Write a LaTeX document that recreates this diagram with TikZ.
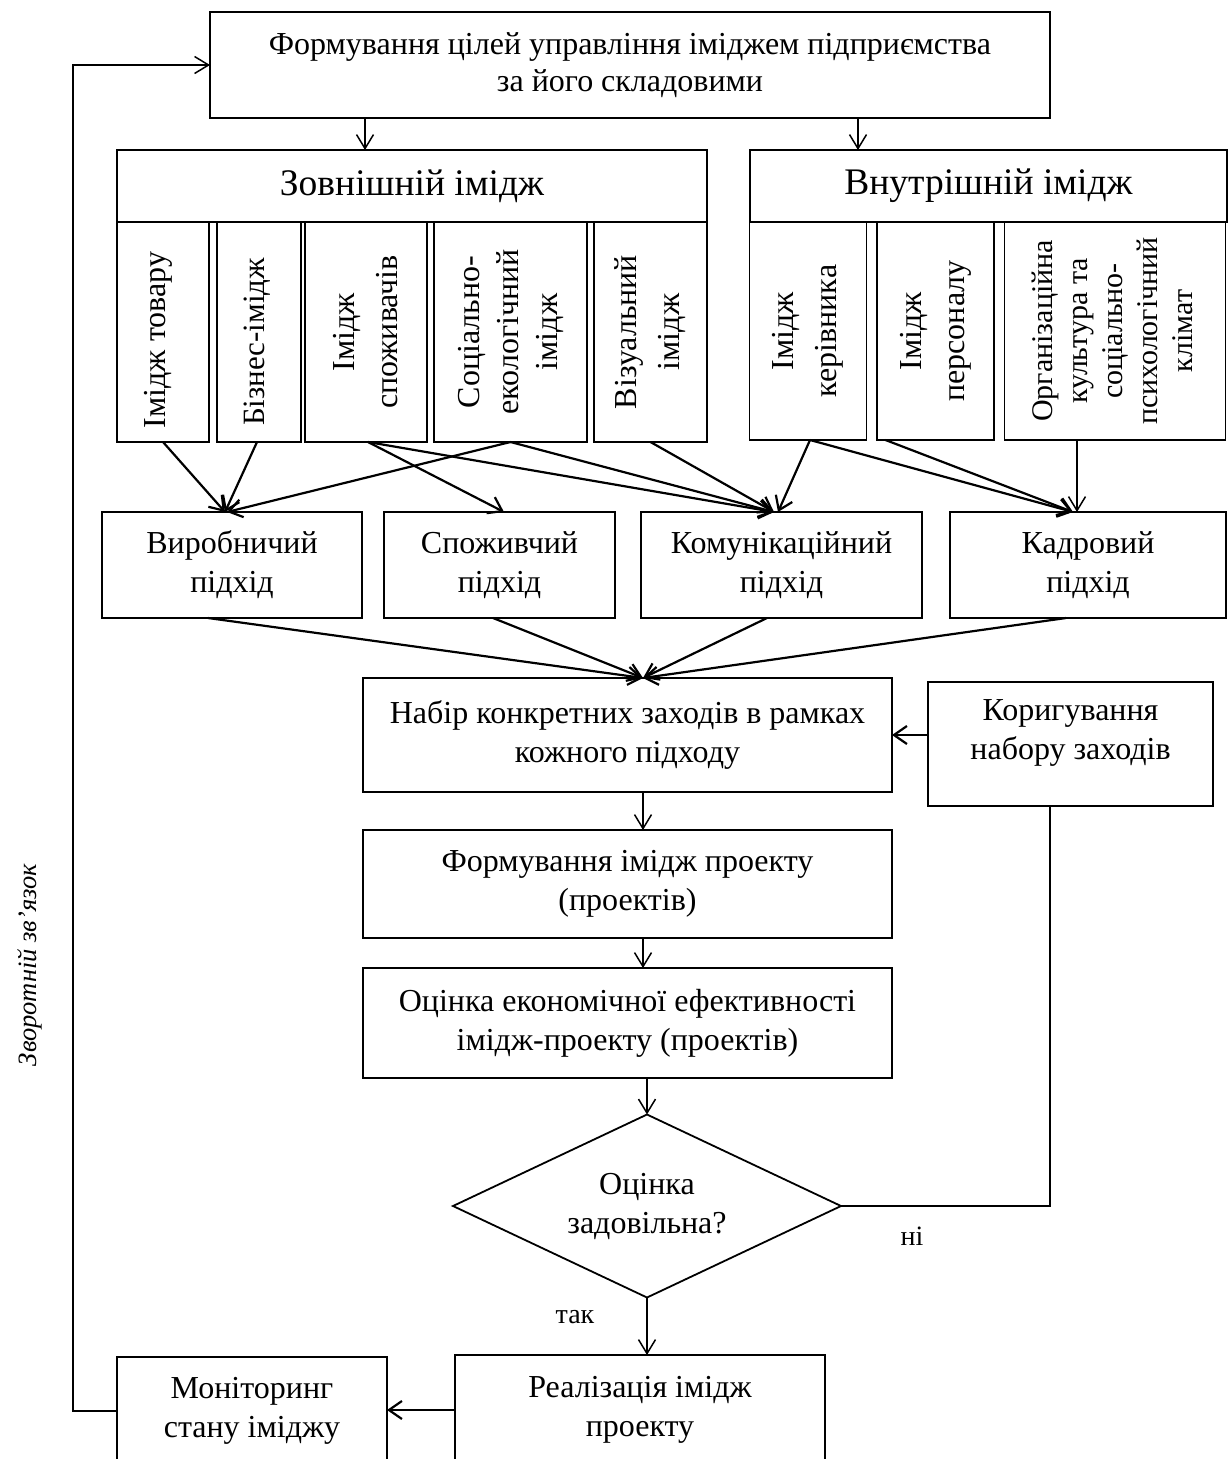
\documentclass[tikz,border=0pt]{standalone}
\usepackage{fontspec}
\setmainfont{Liberation Serif}
\usetikzlibrary{arrows.meta,shapes.geometric,calc}

\tikzset{
  box/.style={draw, line width=1.8pt, inner sep=0pt, outer sep=0pt, align=center,
    font=\fontsize{32}{39}\selectfont},
  vbox/.style={draw, line width=1.8pt, inner sep=0pt, outer sep=0pt},
  head/.style={vbox, font=\fontsize{37.5}{42}\selectfont},
  vtext/.style={rotate=90, align=center, inner sep=0pt, font=\fontsize{32}{34}\selectfont},
  arr/.style={line width=2.2pt, -{Straight Barb[length=13pt,width=18pt]}},
  thin arr/.style={line width=1.5pt, -{Straight Barb[length=14pt,width=17pt]}},
  plain/.style={line width=1.4pt},
  lbl/.style={inner sep=0pt, font=\fontsize{28}{32}\selectfont}
}

\begin{document}
\begin{tikzpicture}[x=1pt,y=-1pt]
\useasboundingbox (0,0) rectangle (1230,1459);

% goal setting
\node[box, minimum width=840, minimum height=106, font=\fontsize{32}{37}\selectfont] (top) at (630,65)
  {Формування цілей управління іміджем підприємства\\за його складовими};

% image components: headers
\node[head, minimum width=590, minimum height=72] (ext) at (412,186) {Зовнішній імідж};
\node[head, minimum width=477, minimum height=72] (int) at (988.5,186) {Внутрішній імідж};

% external image columns
\node[vbox, minimum width=92,  minimum height=220] (v1) at (163,332) {};
\node[vbox, minimum width=84,  minimum height=220] (v2) at (259,332) {};
\node[vbox, minimum width=122, minimum height=220] (v3) at (366,332) {};
\node[vbox, minimum width=153, minimum height=220] (v4) at (510.5,332) {};
\node[vbox, minimum width=113, minimum height=220] (v5) at (650.5,332) {};
% internal image columns
\node[vbox, minimum width=117, minimum height=218] (v6) at (808,331) {};
\node[vbox, minimum width=117, minimum height=218] (v7) at (935.5,331) {};
\node[vbox, minimum width=221, minimum height=218] (v8) at (1115,331) {};

\node[vtext] (v1t) at ([xshift=-5,yshift=-8]v1.center) {Імідж товару};
\node[vtext, font=\fontsize{31}{34}\selectfont] (v2t) at ([xshift=-2,yshift=-10]v2.center) {Бізнес-імідж};
\node[vtext] (v3t) at (v3) {Імідж\\[9pt]споживачів};
\node[vtext] (v4t) at (v4) {Соціально-\\[5pt]екологічний\\[5pt]імідж};
\node[vtext] (v5t) at (v5) {Візуальний\\[9pt]імідж};
\node[vtext] (v6t) at (v6) {Імідж\\[9pt]керівника};
\node[vtext] (v7t) at (v7) {Імідж\\[9pt]персоналу};
\node[vtext, font=\fontsize{30}{34}\selectfont] (v8t) at ([xshift=-3]v8.center) {Організаційна\\[1pt]культура та\\[1pt]соціально-\\[1pt]психологічний\\[1pt]клімат};

% approaches
\node[box, minimum width=260, minimum height=106] (a1) at (232,565) {Виробничий\\підхід};
\node[box, minimum width=231, minimum height=106] (a2) at (499.5,565) {Споживчий\\підхід};
\node[box, minimum width=281, minimum height=106] (a3) at (781.5,565) {Комунікаційний\\підхід};
\node[box, minimum width=276, minimum height=106] (a4) at (1088,565) {Кадровий\\підхід};

% project chain
\node[box, minimum width=529, minimum height=114] (nab) at (627.5,735) {Набір конкретних заходів в рамках\\кожного підходу};
\node[box, minimum width=285, minimum height=124] (kor) at (1070.5,744) {};
\node[inner sep=0pt, align=center, font=\fontsize{32}{39}\selectfont] (kort) at (1070.5,733) {Коригування\\набору заходів};
\node[box, minimum width=529, minimum height=108] (proj) at (627.5,884) {Формування імідж проекту\\(проектів)};
\node[box, minimum width=529, minimum height=110] (eval) at (627.5,1023) {Оцінка економічної ефективності\\імідж-проекту (проектів)};
\node[draw, diamond, aspect=2.12, line width=1.8pt, inner sep=0pt, outer sep=0pt,
  minimum width=388, minimum height=183] (dia) at (647,1206) {};
\node[inner sep=0pt, align=center, font=\fontsize{32}{39}\selectfont] (diat) at (dia) {Оцінка\\задовільна?};
\node[box, minimum width=370, minimum height=110] (real) at (640,1410) {Реалізація імідж\\проекту};
\node[box, minimum width=270, minimum height=108] (mon) at (252,1411) {Моніторинг\\стану іміджу};

% top to headers
\draw[thin arr] ([xshift=-265]top.south) -- ([xshift=-265]top.south |- ext.north);
\draw[thin arr] ([xshift=228]top.south) -- ([xshift=228]top.south |- int.north);

% components to approaches
\draw[arr] (v1.south) -- ([xshift=-7]a1.north);
\draw[arr] ([xshift=-2]v2.south) -- ([xshift=-7]a1.north);
\draw[arr] (v4.south) -- ([xshift=-5]a1.north);
\draw[arr] ([xshift=2]v3.south) -- ([xshift=4.5]a2.north);
\draw[arr] ([xshift=2]v3.south) -- ([xshift=-7.5]a3.north);
\draw[arr] (v4.south) -- ([xshift=-7.5]a3.north);
\draw[arr] (v5.south) -- ([xshift=-7.5]a3.north);
\draw[arr] ([xshift=2]v6.south) -- ([xshift=-3.5]a3.north);
\draw[arr] ([xshift=2]v6.south) -- ([xshift=-15]a4.north);
\draw[arr] ([xshift=-50]v7.south) -- ([xshift=-15]a4.north);
\draw[thin arr] ([xshift=-38]v8.south) -- ([xshift=-38]v8.south |- a4.north);

% approaches to the set of measures
\draw[arr] ([xshift=-24]a1.south) -- ([xshift=15.5]nab.north);
\draw[arr] ([xshift=-6.5]a2.south) -- ([xshift=15.5]nab.north);
\draw[arr] ([xshift=-14.5]a3.south) -- ([xshift=15.5]nab.north);
\draw[arr] ([xshift=-22]a4.south) -- ([xshift=15.5]nab.north);

% main chain
\draw[arr] (kor.west |- nab.east) -- (nab.east);
\draw[thin arr] ([xshift=15.5]nab.south) -- ([xshift=15.5]proj.north);
\draw[thin arr] ([xshift=15.5]proj.south) -- ([xshift=15.5]eval.north);
\draw[thin arr] ([xshift=19.5]eval.south) -- (dia.north);
\draw[thin arr] (dia.south) -- (dia.south |- real.north);
\draw[plain] (dia.east) -| ([xshift=-20.5]kor.south);
\draw[arr] (real.west) -- (real.west -| mon.east);

% feedback loop
\coordinate (fb) at (73,0);
\draw[thin arr] (mon.west) -- (mon.west -| fb) |- (top.west);

% labels
\node[lbl] (no) at (912,1236) {ні};
\node[lbl] (yes) at (575,1317) {так};
\node[lbl, rotate=90, font=\itshape\fontsize{26.5}{30}\selectfont] (fbl) at (30,965) {Зворотній зв’язок};
\end{tikzpicture}
\end{document}
